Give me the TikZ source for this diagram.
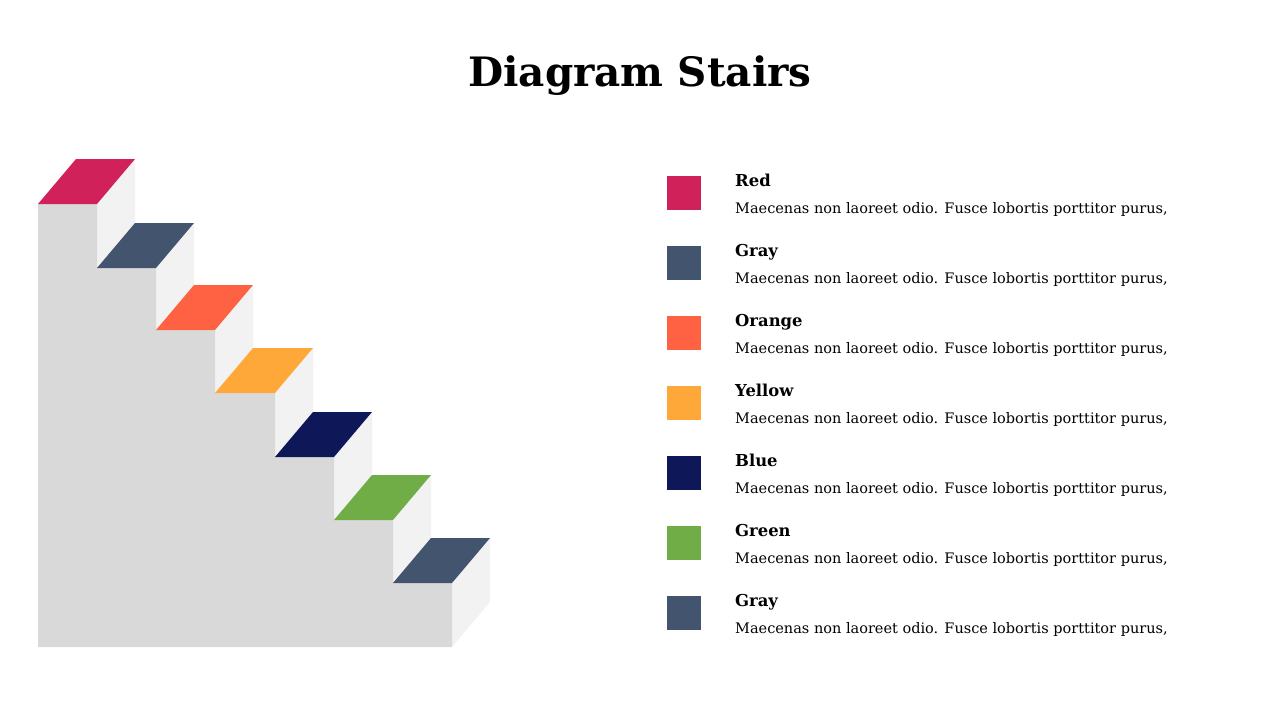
\documentclass[tikz,border=0pt]{standalone}
\usepackage{fontspec}
\setmainfont{DejaVu Serif}
\definecolor{cred}{HTML}{D0215A}
\definecolor{cgray}{HTML}{43546E}
\definecolor{corange}{HTML}{FF6242}
\definecolor{cyellow}{HTML}{FFA83A}
\definecolor{cblue}{HTML}{0E1858}
\definecolor{cgreen}{HTML}{70AD47}
\definecolor{front}{HTML}{D9D9D9}
\definecolor{side}{HTML}{F2F2F2}
\begin{document}
\begin{tikzpicture}[x=1pt,y=-1pt,
  swatch/.style={minimum width=34pt,minimum height=34pt,inner sep=0pt,anchor=north west},
  head/.style={anchor=base west,inner sep=0pt,font=\fontsize{16.4}{19}\selectfont\bfseries},
  body/.style={anchor=base west,inner sep=0pt,font=\fontsize{14.5}{17}\selectfont},
  titlestyle/.style={anchor=base,inner sep=0pt,font=\fontsize{40.5}{44}\selectfont\bfseries}]
\useasboundingbox (0,0) rectangle (1280,720);
\node[titlestyle] (title) at (640,86) {Diagram Stairs};
% side faces
\foreach \i/\xr/\yt/\yn in {1/97/204/268,2/156/268/330,3/215/330/393,4/275/393/457,5/334/457/520,6/393/520/583,7/452/583/647}{
  \fill[side] (\xr,\yt) -- ++(38,-45) -- (\xr+38,\yn-45) -- (\xr,\yn) -- cycle;
}
% front
\fill[front] (38,647) -- (38,204) -- (97,204) -- (97,268) -- (156,268) -- (156,330) -- (215,330) -- (215,393) -- (275,393) -- (275,457) -- (334,457) -- (334,520) -- (393,520) -- (393,583) -- (452,583) -- (452,647) -- cycle;
% treads
\foreach \xl/\xr/\yt/\c in {38/97/204/cred,97/156/268/cgray,156/215/330/corange,215/275/393/cyellow,275/334/457/cblue,334/393/520/cgreen,393/452/583/cgray}{
  \fill[\c] (\xl,\yt) -- (\xr,\yt) -- ++(38,-45) -- (\xl+38,\yt-45) -- cycle;
}
% legend
\foreach \n/\c/\t [count=\k from 0] in {a/cred/Red,b/cgray/Gray,c/corange/Orange,d/cyellow/Yellow,e/cblue/Blue,f/cgreen/Green,g/cgray/Gray}{
  \node[swatch,fill=\c] (sw\n) at (667,176+70*\k) {};
  \node[head] (h\n) at (735,186+70*\k) {\t};
  \node[body] (b\n) at (735,213+70*\k) {Maecenas non laoreet odio. Fusce lobortis porttitor purus,};
}
\end{tikzpicture}
\end{document}
